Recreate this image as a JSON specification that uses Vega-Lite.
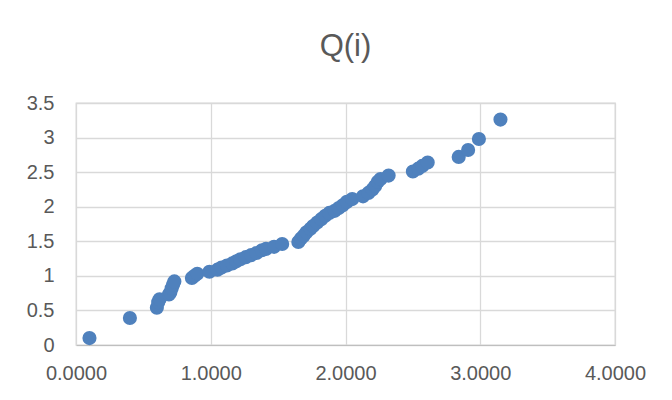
{
  "$schema": "https://vega.github.io/schema/vega-lite/v6.json",
  "autosize": {"type": "none"},
  "width": 539,
  "height": 242,
  "padding": {"left": 76, "top": 103, "right": 57, "bottom": 55},
  "background": "white",
  "title": {
    "text": "Q(i)",
    "fontSize": 31,
    "font": "Liberation Sans",
    "fontWeight": "normal",
    "color": "#595959",
    "anchor": "middle",
    "offset": 30
  },
  "data": {
    "values": [
      {"x": 0.10, "q": 0.10},
      {"x": 0.40, "q": 0.39},
      {"x": 0.60, "q": 0.54},
      {"x": 0.61, "q": 0.62},
      {"x": 0.62, "q": 0.66},
      {"x": 0.69, "q": 0.73},
      {"x": 0.70, "q": 0.76},
      {"x": 0.71, "q": 0.82},
      {"x": 0.72, "q": 0.87},
      {"x": 0.73, "q": 0.92},
      {"x": 0.86, "q": 0.97},
      {"x": 0.88, "q": 1.00},
      {"x": 0.90, "q": 1.03},
      {"x": 0.99, "q": 1.06},
      {"x": 1.05, "q": 1.09},
      {"x": 1.08, "q": 1.12},
      {"x": 1.12, "q": 1.15},
      {"x": 1.16, "q": 1.18},
      {"x": 1.19, "q": 1.21},
      {"x": 1.22, "q": 1.24},
      {"x": 1.26, "q": 1.27},
      {"x": 1.30, "q": 1.30},
      {"x": 1.34, "q": 1.33},
      {"x": 1.38, "q": 1.37},
      {"x": 1.41, "q": 1.39},
      {"x": 1.47, "q": 1.42},
      {"x": 1.53, "q": 1.46},
      {"x": 1.65, "q": 1.49},
      {"x": 1.67, "q": 1.54},
      {"x": 1.69, "q": 1.58},
      {"x": 1.71, "q": 1.63},
      {"x": 1.74, "q": 1.68},
      {"x": 1.76, "q": 1.72},
      {"x": 1.79, "q": 1.77},
      {"x": 1.82, "q": 1.82},
      {"x": 1.85, "q": 1.87},
      {"x": 1.88, "q": 1.91},
      {"x": 1.92, "q": 1.94},
      {"x": 1.95, "q": 1.98},
      {"x": 1.98, "q": 2.02},
      {"x": 2.01, "q": 2.07},
      {"x": 2.05, "q": 2.11},
      {"x": 2.13, "q": 2.15},
      {"x": 2.17, "q": 2.20},
      {"x": 2.20, "q": 2.25},
      {"x": 2.22, "q": 2.30},
      {"x": 2.24, "q": 2.36},
      {"x": 2.26, "q": 2.40},
      {"x": 2.32, "q": 2.45},
      {"x": 2.50, "q": 2.51},
      {"x": 2.54, "q": 2.55},
      {"x": 2.57, "q": 2.59},
      {"x": 2.61, "q": 2.64},
      {"x": 2.84, "q": 2.72},
      {"x": 2.91, "q": 2.82},
      {"x": 2.99, "q": 2.98},
      {"x": 3.15, "q": 3.26}
    ]
  },
  "mark": {"type": "circle", "size": 200, "color": "#4F81BD", "opacity": 1},
  "encoding": {
    "x": {
      "field": "x",
      "type": "quantitative",
      "scale": {"domain": [0, 4], "nice": false, "zero": false},
      "axis": {
        "title": null,
        "values": [0, 1, 2, 3, 4],
        "format": ".4f",
        "labelFont": "Liberation Sans",
        "labelFontSize": 20,
        "labelColor": "#595959",
        "labelPadding": 18,
        "labelFlush": false,
        "labelOverlap": false,
        "ticks": false,
        "domainColor": "#BFBFBF",
        "gridColor": "#D9D9D9",
        "gridWidth": 1.3
      }
    },
    "y": {
      "field": "q",
      "type": "quantitative",
      "scale": {"domain": [0, 3.5], "nice": false},
      "axis": {
        "title": null,
        "values": [0, 0.5, 1, 1.5, 2, 2.5, 3, 3.5],
        "format": "~g",
        "labelFont": "Liberation Sans",
        "labelFontSize": 20,
        "labelColor": "#595959",
        "labelPadding": 22,
        "labelFlush": false,
        "labelOverlap": false,
        "ticks": false,
        "domainColor": "#D9D9D9",
        "gridColor": "#D9D9D9",
        "gridWidth": 1.3
      }
    }
  },
  "config": {
    "view": {"stroke": "#D9D9D9", "strokeWidth": 1.3}
  }
}
